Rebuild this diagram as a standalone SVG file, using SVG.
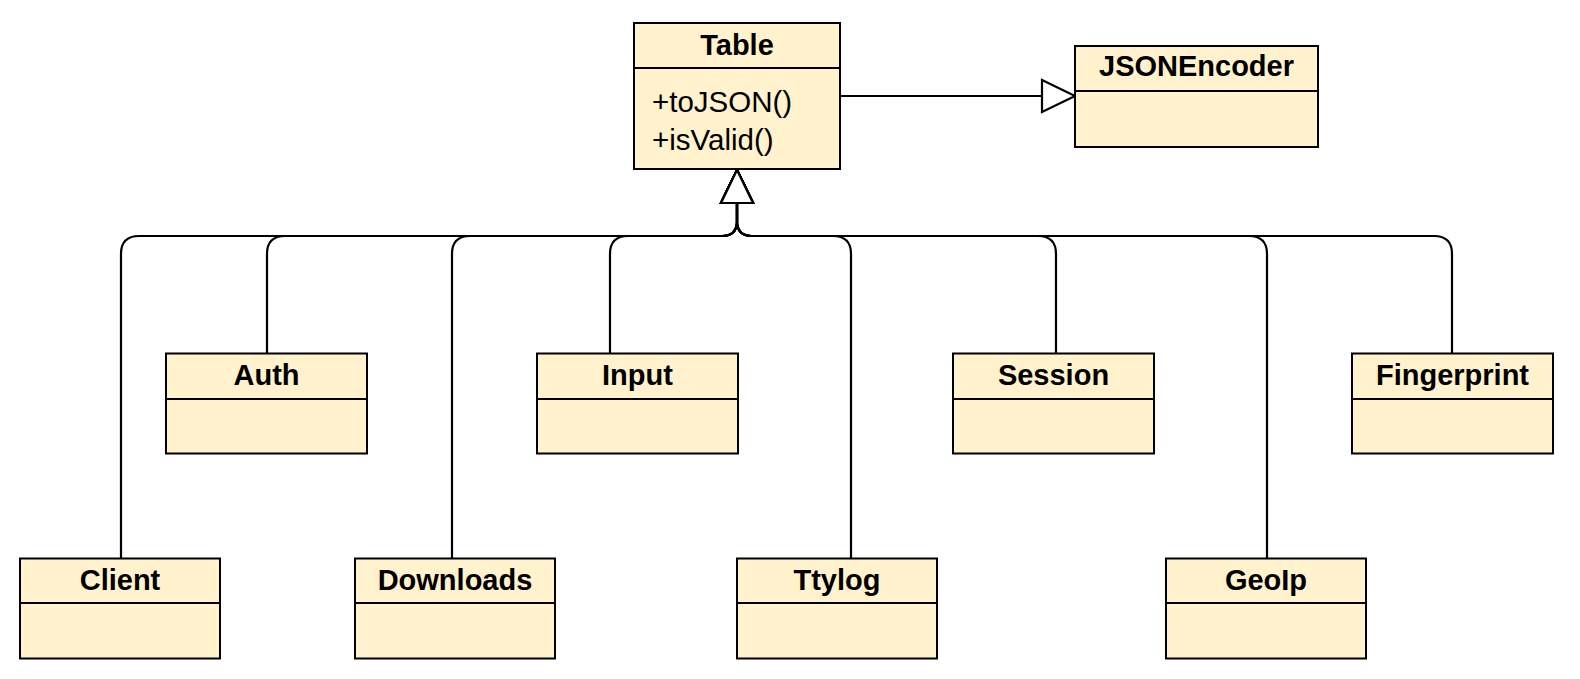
<svg xmlns="http://www.w3.org/2000/svg" width="1580" height="679" viewBox="0 0 1580 679">
<style>
.box{fill:#fff2cc;stroke:#000;stroke-width:2}
.div{stroke:#000;stroke-width:2}
.t{font-family:"Liberation Sans",Arial,Helvetica,sans-serif;font-size:29px;font-weight:bold;text-anchor:middle;fill:#000}
.m{font-family:"Liberation Sans",Arial,Helvetica,sans-serif;font-size:29.5px;fill:#000}
.e{fill:none;stroke:#000;stroke-width:2.2}
</style>
<defs>
<marker id="inh" markerUnits="userSpaceOnUse" viewBox="-3 -3 40 38" markerWidth="40" markerHeight="38" refX="33" refY="16" orient="auto" overflow="visible">
<path d="M0,0 L33,16 L0,32 Z" fill="#fff" stroke="#000" stroke-width="2.2"/>
</marker>
</defs>
<rect width="1580" height="679" fill="#fff"/>
<g id="connectors">
<path class="e" d="M121,558 L121,254 Q121,236 139,236 L722,236 Q737,236 737,221 L737,170" marker-end="url(#inh)"/>
<path class="e" d="M267,353 L267,254 Q267,236 285,236 L722,236 Q737,236 737,221 L737,170" marker-end="url(#inh)"/>
<path class="e" d="M452,558 L452,254 Q452,236 470,236 L722,236 Q737,236 737,221 L737,170" marker-end="url(#inh)"/>
<path class="e" d="M610,353 L610,254 Q610,236 628,236 L722,236 Q737,236 737,221 L737,170" marker-end="url(#inh)"/>
<path class="e" d="M851,558 L851,254 Q851,236 833,236 L752,236 Q737,236 737,221 L737,170" marker-end="url(#inh)"/>
<path class="e" d="M1056,353 L1056,254 Q1056,236 1038,236 L752,236 Q737,236 737,221 L737,170" marker-end="url(#inh)"/>
<path class="e" d="M1267,558 L1267,254 Q1267,236 1249,236 L752,236 Q737,236 737,221 L737,170" marker-end="url(#inh)"/>
<path class="e" d="M1452,353 L1452,254 Q1452,236 1434,236 L752,236 Q737,236 737,221 L737,170" marker-end="url(#inh)"/>
<path class="e" d="M840,96 L1075,96" marker-end="url(#inh)"/>
</g>
<g id="Table">
<rect class="box" x="634" y="23" width="206" height="146"/>
<line class="div" x1="634" y1="68" x2="840" y2="68"/>
<text class="t" x="737" y="55">Table</text>
<text class="m" x="652" y="112">+toJSON()</text>
<text class="m" x="652" y="150">+isValid()</text>
</g>
<g id="JSONEncoder">
<rect class="box" x="1075" y="46" width="243" height="101"/>
<line class="div" x1="1075" y1="91" x2="1318" y2="91"/>
<text class="t" x="1196.5" y="76">JSONEncoder</text>
</g>
<g id="Auth">
<rect class="box" x="166" y="353.5" width="201" height="100"/>
<line class="div" x1="166" y1="399" x2="367" y2="399"/>
<text class="t" x="266.5" y="384.5">Auth</text>
</g>
<g id="Input">
<rect class="box" x="537" y="353.5" width="201" height="100"/>
<line class="div" x1="537" y1="399" x2="738" y2="399"/>
<text class="t" x="637.5" y="384.5">Input</text>
</g>
<g id="Session">
<rect class="box" x="953" y="353.5" width="201" height="100"/>
<line class="div" x1="953" y1="399" x2="1154" y2="399"/>
<text class="t" x="1053.5" y="384.5">Session</text>
</g>
<g id="Fingerprint">
<rect class="box" x="1352" y="353.5" width="201" height="100"/>
<line class="div" x1="1352" y1="399" x2="1553" y2="399"/>
<text class="t" x="1452.5" y="384.5">Fingerprint</text>
</g>
<g id="Client">
<rect class="box" x="20" y="558.5" width="200" height="100"/>
<line class="div" x1="20" y1="603" x2="220" y2="603"/>
<text class="t" x="120" y="590">Client</text>
</g>
<g id="Downloads">
<rect class="box" x="355" y="558.5" width="200" height="100"/>
<line class="div" x1="355" y1="603" x2="555" y2="603"/>
<text class="t" x="455" y="590">Downloads</text>
</g>
<g id="Ttylog">
<rect class="box" x="737" y="558.5" width="200" height="100"/>
<line class="div" x1="737" y1="603" x2="937" y2="603"/>
<text class="t" x="837" y="590">Ttylog</text>
</g>
<g id="GeoIp">
<rect class="box" x="1166" y="558.5" width="200" height="100"/>
<line class="div" x1="1166" y1="603" x2="1366" y2="603"/>
<text class="t" x="1266" y="590">GeoIp</text>
</g>
</svg>
